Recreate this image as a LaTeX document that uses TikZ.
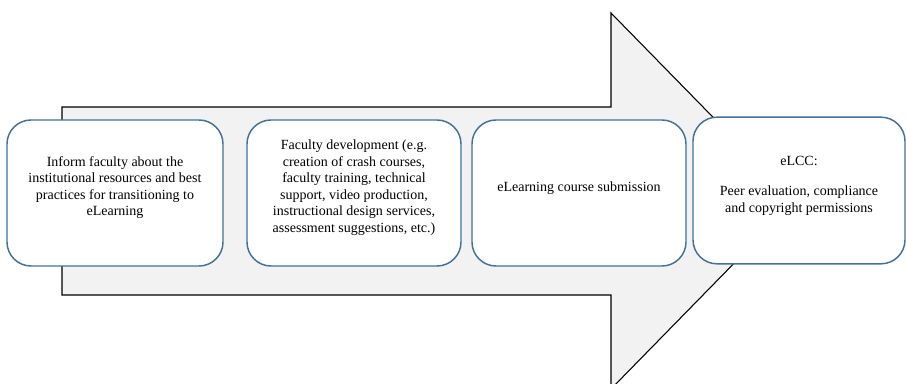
\documentclass[tikz,border=0pt]{standalone}
\usepackage{fontspec}
\setmainfont{Liberation Serif}
\definecolor{stepblue}{HTML}{41719C}
\definecolor{arrowgray}{HTML}{F2F2F2}
\begin{document}
\begin{tikzpicture}[x=.75pt,y=-.75pt,
	stepbox/.style={draw=stepblue,line width=1.1pt,fill=white,rounded corners=18pt,minimum height=109.5pt},
	steptext/.style={align=center,inner sep=0pt,font=\fontsize{10.5}{12.4}\selectfont},
	bigarrow/.style={draw=black,line width=.8pt,fill=arrowgray,line join=miter}]
		\useasboundingbox (0,0) rectangle (906,384);
		
		\draw [bigarrow] (62,107) -- (611,107) -- (611,13) -- (795,201) -- (611,389) -- (611,295) -- (62,295) -- cycle;
		
		\node [stepbox,minimum width=162pt] (inform) at (115,193) {};
		\node [steptext] (informtext) at ([yshift=4pt]inform.center) {Inform faculty about the\\institutional resources and best\\practices for transitioning to\\eLearning};
		
		\node [stepbox,minimum width=160.5pt] (develop) at (354,193) {};
		\node [steptext] (developtext) at ([yshift=4pt]develop.center) {Faculty development (e.g.\\creation of crash courses,\\faculty training, technical\\support, video production,\\instructional design services,\\assessment suggestions, etc.)};
		
		\node [stepbox,minimum width=160.5pt] (submit) at (579,193) {};
		\node [steptext] (submittext) at ([yshift=4pt]submit.center) {eLearning course submission};
		
		\node [stepbox,minimum width=159pt,minimum height=110pt] (elcc) at (799,190.5) {};
		\node [steptext] (elcctext) at ([yshift=3.75pt]elcc.center) {eLCC:\\[1em]Peer evaluation, compliance\\and copyright permissions};
\end{tikzpicture}
\end{document}
